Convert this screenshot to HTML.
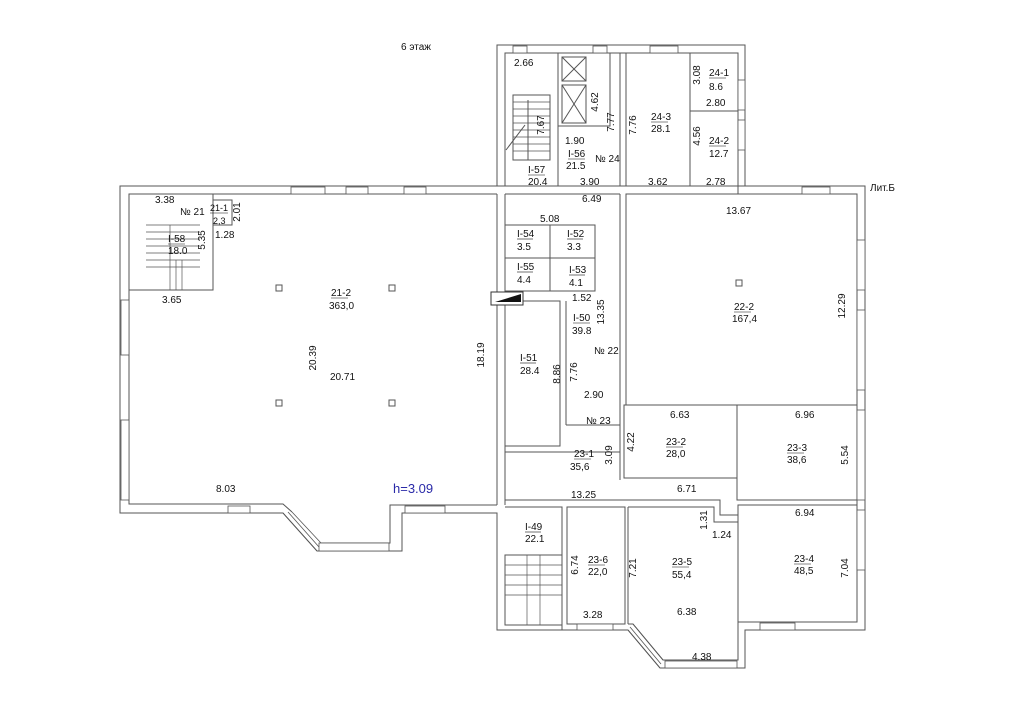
<!DOCTYPE html>
<html><head><meta charset="utf-8"><style>
html,body{margin:0;padding:0;background:#fff;}
svg{display:block}
text{font-family:"Liberation Sans",sans-serif;font-size:10px;fill:#111;}
</style></head><body>
<svg width="1024" height="723" viewBox="0 0 1024 723" xmlns="http://www.w3.org/2000/svg">
<g fill="none" stroke="#555" stroke-width="1">
<!-- outer outline -->
<polyline points="497,186 497,45 745,45 745,186 865,186 865,630 745,630 745,668 660,668 628,630 497,630 497,513 402,513 402,551 317,551 283,513 120,513 120,186 497,186"/>
<!-- inner outline left wing -->
<polyline points="497,194 129,194 129,504 283,504 292,512"/>
<polyline points="321,543 390,543 390,505 497,505"/>
<!-- central double wall -->
<line x1="497" y1="194" x2="497" y2="505"/>
<line x1="505" y1="194" x2="505" y2="505"/>
<line x1="497" y1="186" x2="745" y2="186"/>
<!-- top tower inner -->
<polyline points="505,186 505,53 738,53 738,194 857,194 857,622 738,622 738,660 663,660 633,624 628,624"/>
<line x1="505" y1="194" x2="620" y2="194"/>
<line x1="626" y1="194" x2="738" y2="194"/>
<!-- tower interior walls -->
<rect x="505" y="53" width="53" height="133"/>
<rect x="558" y="53" width="62" height="133"/>
<rect x="626" y="53" width="64" height="133"/>
<rect x="690" y="53" width="48" height="58"/>
<rect x="690" y="111" width="48" height="75"/>
<rect x="558" y="53" width="52" height="73"/>
<rect x="562" y="57" width="24" height="24"/><line x1="562" y1="57" x2="586" y2="81"/><line x1="586" y1="57" x2="562" y2="81"/>
<rect x="562" y="85" width="24" height="38"/><line x1="562" y1="85" x2="586" y2="123"/><line x1="586" y1="85" x2="562" y2="123"/>
<!-- stair I-57 -->
<rect x="513" y="95" width="37" height="65"/>
<g stroke-width="0.7"><line x1="513" y1="102" x2="550" y2="102"/><line x1="513" y1="109" x2="550" y2="109"/><line x1="513" y1="116" x2="550" y2="116"/><line x1="513" y1="123" x2="550" y2="123"/><line x1="513" y1="130" x2="550" y2="130"/><line x1="513" y1="137" x2="550" y2="137"/><line x1="513" y1="144" x2="550" y2="144"/><line x1="513" y1="151" x2="550" y2="151"/></g>
<line x1="528" y1="100" x2="528" y2="160"/><line x1="506" y1="150" x2="525" y2="125"/>
<!-- I-58 stair room -->
<rect x="129" y="194" width="84" height="96"/>
<rect x="213" y="200" width="19" height="25"/>
<g stroke-width="0.7"><line x1="146" y1="225" x2="200" y2="225"/><line x1="146" y1="232" x2="200" y2="232"/><line x1="146" y1="239" x2="200" y2="239"/><line x1="146" y1="246" x2="200" y2="246"/><line x1="146" y1="253" x2="200" y2="253"/><line x1="146" y1="260" x2="200" y2="260"/><line x1="146" y1="267" x2="200" y2="267"/><line x1="170" y1="225" x2="170" y2="290"/><line x1="176" y1="260" x2="176" y2="290"/><line x1="182" y1="260" x2="182" y2="290"/></g>
<!-- central block -->
<line x1="620" y1="194" x2="620" y2="480"/><line x1="626" y1="194" x2="626" y2="405"/>
<rect x="505" y="225" width="90" height="66"/>
<line x1="550" y1="225" x2="550" y2="291"/><line x1="505" y1="258" x2="595" y2="258"/>
<rect x="505" y="301" width="55" height="145"/>
<rect x="491" y="292" width="32" height="13" stroke="#333" fill="#fff"/>
<polygon points="495,302 521,302 521,294" fill="#111" stroke="none"/>
<line x1="566" y1="301" x2="566" y2="425"/><line x1="566" y1="425" x2="620" y2="425"/>
<!-- 22-2 & 23 rooms -->
<rect x="626" y="194" width="231" height="211"/>
<rect x="624" y="405" width="113" height="73"/>
<rect x="737" y="405" width="120" height="95"/>
<line x1="505" y1="452" x2="620" y2="452"/>
<polyline points="505,500 720,500 720,515 738,515"/>
<polyline points="505,507 562,507 562,630"/>
<rect x="567" y="507" width="58" height="117"/>
<polyline points="628,507 714,507 714,522 738,522 738,622"/>
<line x1="628" y1="507" x2="628" y2="624"/>
<rect x="738" y="505" width="119" height="117"/>
<!-- I-49 stairs -->
<rect x="505" y="555" width="57" height="70"/>
<g stroke-width="0.7"><line x1="505" y1="565" x2="562" y2="565"/><line x1="505" y1="575" x2="562" y2="575"/><line x1="505" y1="585" x2="562" y2="585"/><line x1="505" y1="595" x2="562" y2="595"/><line x1="527" y1="555" x2="527" y2="625"/><line x1="540" y1="555" x2="540" y2="625"/></g>
<!-- columns -->
<rect x="276" y="285" width="6" height="6"/><rect x="389" y="285" width="6" height="6"/>
<rect x="276" y="400" width="6" height="6"/><rect x="389" y="400" width="6" height="6"/>
<rect x="736" y="280" width="6" height="6"/>
</g>
<!-- windows -->
<g fill="#fff" stroke="#555" stroke-width="0.8">
<rect x="228" y="506" width="22" height="7"/><rect x="405" y="506" width="40" height="7"/>
<rect x="319" y="543" width="70" height="8"/>
<rect x="291" y="187" width="34" height="7"/><rect x="346" y="187" width="22" height="7"/><rect x="404" y="187" width="22" height="7"/>
<rect x="121" y="300" width="8" height="55"/><rect x="121" y="420" width="8" height="80"/>
<rect x="513" y="46" width="14" height="7"/><rect x="593" y="46" width="14" height="7"/><rect x="650" y="46" width="28" height="7"/>
<rect x="738" y="80" width="7" height="30"/><rect x="738" y="120" width="7" height="30"/>
<rect x="802" y="187" width="28" height="7"/>
<rect x="857" y="240" width="8" height="50"/><rect x="857" y="310" width="8" height="80"/><rect x="857" y="410" width="8" height="90"/><rect x="857" y="510" width="8" height="60"/>
<rect x="760" y="623" width="35" height="7"/><rect x="577" y="624" width="36" height="6"/>
<rect x="665" y="661" width="72" height="7"/>
</g>
<g stroke="#555" fill="none" stroke-width="0.8">
<line x1="292" y1="512" x2="321" y2="543"/><line x1="283" y1="513" x2="317" y2="551"/><line x1="288" y1="512" x2="319" y2="547"/>
<line x1="633" y1="624" x2="663" y2="660"/><line x1="628" y1="630" x2="660" y2="668"/><line x1="630" y1="627" x2="661" y2="664"/>
</g>
<!-- labels -->
<text x="401" y="50">6 этаж</text>
<text x="870" y="191">Лит.Б</text>
<text x="514" y="66">2.66</text>
<text x="565" y="144">1.90</text>
<text x="580" y="185">3.90</text>
<text x="648" y="185">3.62</text>
<text x="706" y="185">2.78</text>
<text x="706" y="106">2.80</text>
<text x="595" y="162">№ 24</text>
<text x="568" y="157">I-56</text><text x="566" y="169">21.5</text>
<text x="528" y="173">I-57</text><text x="528" y="185">20.4</text>
<text x="651" y="120">24-3</text><text x="651" y="132">28.1</text>
<text x="709" y="76">24-1</text><text x="709" y="90">8.6</text>
<text x="709" y="144">24-2</text><text x="709" y="157">12.7</text>
<g text-anchor="middle">
<text transform="translate(544,125) rotate(-90)">7.67</text>
<text transform="translate(598,102) rotate(-90)">4.62</text>
<text transform="translate(614,122) rotate(-90)">7.77</text>
<text transform="translate(636,125) rotate(-90)">7.76</text>
<text transform="translate(700,75) rotate(-90)">3.08</text>
<text transform="translate(700,136) rotate(-90)">4.56</text>
<text transform="translate(240,212) rotate(-90)">2.01</text>
<text transform="translate(205,240) rotate(-90)">5.35</text>
<text transform="translate(316,358) rotate(-90)">20.39</text>
<text transform="translate(484,355) rotate(-90)">18.19</text>
<text transform="translate(604,312) rotate(-90)">13.35</text>
<text transform="translate(560,374) rotate(-90)">8.86</text>
<text transform="translate(577,372) rotate(-90)">7.76</text>
<text transform="translate(612,455) rotate(-90)">3.09</text>
<text transform="translate(634,442) rotate(-90)">4.22</text>
<text transform="translate(845,306) rotate(-90)">12.29</text>
<text transform="translate(848,455) rotate(-90)">5.54</text>
<text transform="translate(848,568) rotate(-90)">7.04</text>
<text transform="translate(707,520) rotate(-90)">1.31</text>
<text transform="translate(578,565) rotate(-90)">6.74</text>
<text transform="translate(636,568) rotate(-90)">7.21</text>
</g>
<text x="582" y="202">6.49</text>
<text x="540" y="222">5.08</text>
<text x="517" y="237">I-54</text><text x="517" y="250">3.5</text>
<text x="567" y="237">I-52</text><text x="567" y="250">3.3</text>
<text x="517" y="270">I-55</text><text x="517" y="283">4.4</text>
<text x="569" y="273">I-53</text><text x="569" y="286">4.1</text>
<text x="572" y="301">1.52</text>
<text x="573" y="321">I-50</text><text x="572" y="334">39.8</text>
<text x="520" y="361">I-51</text><text x="520" y="374">28.4</text>
<text x="594" y="354">№ 22</text>
<text x="584" y="398">2.90</text>
<text x="586" y="424">№ 23</text>
<text x="574" y="457">23-1</text><text x="570" y="470">35,6</text>
<text x="571" y="498">13.25</text>
<text x="677" y="492">6.71</text>
<text x="670" y="418">6.63</text>
<text x="666" y="445">23-2</text><text x="666" y="457">28,0</text>
<text x="795" y="418">6.96</text>
<text x="787" y="451">23-3</text><text x="787" y="463">38,6</text>
<text x="726" y="214">13.67</text>
<text x="734" y="310">22-2</text><text x="732" y="322">167,4</text>
<text x="712" y="538">1.24</text>
<text x="795" y="516">6.94</text>
<text x="794" y="562">23-4</text><text x="794" y="574">48,5</text>
<text x="525" y="530">I-49</text><text x="525" y="542">22.1</text>
<text x="588" y="563">23-6</text><text x="588" y="575">22,0</text>
<text x="583" y="618">3.28</text>
<text x="672" y="565">23-5</text><text x="672" y="578">55,4</text>
<text x="677" y="615">6.38</text>
<text x="692" y="660">4.38</text>
<text x="155" y="203">3.38</text>
<text x="180" y="215">№ 21</text>
<text x="210" y="211" style="font-size:9px">21-1</text><text x="213" y="224" style="font-size:9px">2,3</text>
<text x="215" y="238">1.28</text>
<text x="168" y="242">I-58</text><text x="168" y="254">18.0</text>
<text x="162" y="303">3.65</text>
<text x="331" y="296">21-2</text><text x="329" y="309">363,0</text>
<text x="330" y="380">20.71</text>
<text x="216" y="492">8.03</text>
<text x="393" y="493" style="font-size:13px;fill:#2a2aa8">h=3.09</text>
<g stroke="#111" stroke-width="0.6">
<line x1="528" y1="175" x2="545" y2="175"/><line x1="568" y1="159" x2="585" y2="159"/>
<line x1="651" y1="122" x2="668" y2="122"/><line x1="709" y1="78" x2="726" y2="78"/><line x1="709" y1="146" x2="726" y2="146"/>
<line x1="517" y1="239" x2="533" y2="239"/><line x1="567" y1="239" x2="583" y2="239"/><line x1="517" y1="272" x2="533" y2="272"/><line x1="569" y1="275" x2="585" y2="275"/>
<line x1="573" y1="323" x2="590" y2="323"/><line x1="520" y1="363" x2="536" y2="363"/>
<line x1="574" y1="459" x2="591" y2="459"/><line x1="666" y1="447" x2="683" y2="447"/><line x1="787" y1="453" x2="804" y2="453"/>
<line x1="734" y1="312" x2="751" y2="312"/><line x1="794" y1="564" x2="811" y2="564"/><line x1="525" y1="532" x2="541" y2="532"/>
<line x1="588" y1="565" x2="605" y2="565"/><line x1="672" y1="567" x2="689" y2="567"/><line x1="210" y1="213" x2="228" y2="213"/>
<line x1="168" y1="244" x2="185" y2="244"/><line x1="331" y1="298" x2="348" y2="298"/>
</g>
</svg>
</body></html>
